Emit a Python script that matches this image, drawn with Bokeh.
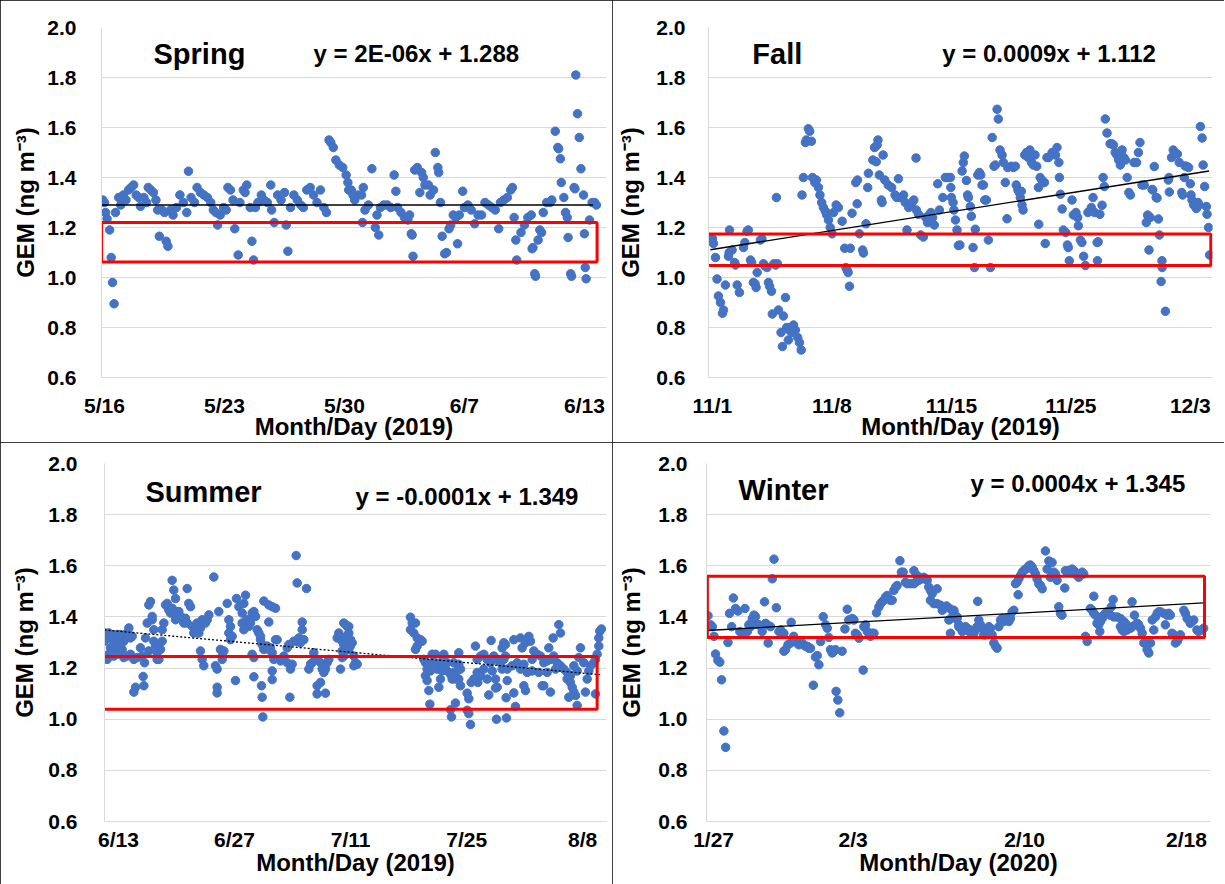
from bokeh.plotting import figure
from bokeh.layouts import column, row
from bokeh.models import FixedTicker, Label, Range1d
from bokeh.embed import file_html
from bokeh.resources import INLINE

# ---------------- data (x = day index along each season's axis, y = GEM ng m-3) ----------------
spring_points = [(-0.1,1.31),(0.0,1.30),(0.06,1.26),(0.15,1.235),(0.3,1.19),(0.39,1.08),(0.47,0.98),(0.56,0.895),(0.64,1.26),(0.83,1.32),(0.95,1.29),(1.1,1.33),(1.25,1.31),(1.4,1.35),(1.55,1.36),(1.7,1.37),(1.85,1.33),(2.0,1.32),(2.1,1.285),(2.3,1.32),(2.45,1.30),(2.55,1.36),(2.7,1.35),(2.85,1.34),(3.0,1.31),(3.1,1.27),(3.2,1.165),(3.35,1.27),(3.5,1.26),(3.6,1.145),(3.7,1.125),(3.85,1.27),(4.0,1.25),(4.2,1.28),(4.4,1.33),(4.6,1.30),(4.8,1.26),(4.9,1.425),(5.05,1.32),(5.25,1.30),(5.4,1.36),(5.6,1.34),(5.8,1.33),(6.0,1.32),(6.2,1.30),(6.35,1.27),(6.5,1.26),(6.6,1.21),(6.75,1.25),(6.95,1.28),(7.1,1.27),(7.2,1.36),(7.35,1.35),(7.5,1.31),(7.6,1.195),(7.8,1.09),(7.9,1.30),(8.1,1.35),(8.2,1.34),(8.3,1.37),(8.5,1.28),(8.6,1.145),(8.7,1.07),(8.8,1.28),(8.95,1.30),(9.15,1.33),(9.3,1.31),(9.5,1.30),(9.7,1.37),(9.75,1.27),(9.9,1.22),(10.1,1.33),(10.3,1.31),(10.5,1.34),(10.6,1.21),(10.7,1.105),(10.85,1.28),(11.05,1.33),(11.25,1.31),(11.45,1.29),(11.6,1.28),(11.8,1.35),(12.0,1.36),(12.2,1.33),(12.4,1.30),(12.6,1.35),(12.8,1.28),(12.95,1.26),(13.1,1.55),(13.2,1.54),(13.35,1.52),(13.5,1.47),(13.7,1.45),(13.9,1.44),(14.1,1.41),(14.2,1.38),(14.25,1.35),(14.4,1.35),(14.5,1.33),(14.6,1.31),(14.8,1.33),(15.0,1.33),(15.05,1.22),(15.1,1.36),(15.2,1.27),(15.4,1.29),(15.6,1.435),(15.8,1.20),(15.9,1.25),(16.0,1.17),(16.1,1.28),(16.3,1.29),(16.5,1.29),(16.7,1.28),(16.9,1.41),(17.0,1.345),(17.1,1.28),(17.3,1.26),(17.5,1.24),(17.7,1.23),(17.8,1.25),(17.9,1.175),(17.95,1.17),(18.0,1.085),(18.1,1.43),(18.25,1.44),(18.4,1.34),(18.5,1.42),(18.6,1.40),(18.7,1.37),(18.9,1.37),(19.0,1.33),(19.2,1.35),(19.3,1.50),(19.45,1.44),(19.5,1.42),(19.6,1.30),(19.7,1.165),(19.85,1.095),(19.95,1.10),(20.1,1.195),(20.2,1.21),(20.35,1.25),(20.5,1.24),(20.6,1.135),(20.7,1.25),(20.9,1.345),(21.0,1.28),(21.2,1.29),(21.4,1.27),(21.6,1.215),(21.8,1.25),(22.0,1.25),(22.2,1.30),(22.4,1.29),(22.6,1.28),(22.8,1.27),(23.0,1.195),(23.1,1.30),(23.3,1.31),(23.5,1.32),(23.7,1.35),(23.8,1.36),(23.9,1.24),(24.0,1.15),(24.05,1.07),(24.3,1.18),(24.5,1.21),(24.7,1.24),(24.9,1.25),(24.95,1.115),(25.0,1.12),(25.1,1.015),(25.15,1.005),(25.3,1.15),(25.4,1.19),(25.5,1.18),(25.6,1.26),(25.8,1.30),(26.0,1.30),(26.1,1.31),(26.3,1.585),(26.45,1.52),(26.5,1.515),(26.6,1.475),(26.65,1.38),(26.8,1.32),(26.9,1.26),(27.0,1.24),(27.05,1.16),(27.2,1.015),(27.25,1.005),(27.4,1.36),(27.45,1.355),(27.5,1.81),(27.6,1.655),(27.7,1.56),(27.8,1.435),(27.95,1.33),(28.0,1.175),(28.05,1.04),(28.1,0.995),(28.3,1.23),(28.45,1.30),(28.6,1.30),(28.7,1.29)]

fall_points = [(0.0,1.156),(0.06,1.136),(0.18,1.08),(0.27,0.994),(0.35,0.926),(0.47,0.90),(0.59,0.857),(0.65,0.87),(0.76,0.97),(0.94,1.085),(0.98,1.10),(1.0,1.19),(1.15,1.11),(1.3,1.06),(1.35,1.05),(1.45,0.97),(1.58,0.94),(1.82,1.12),(1.9,1.14),(2.03,1.185),(2.1,1.19),(2.23,1.07),(2.3,1.06),(2.4,0.98),(2.5,0.975),(2.56,0.96),(2.62,1.02),(2.81,1.15),(2.9,1.155),(2.99,1.055),(3.1,1.045),(3.2,1.04),(3.28,0.98),(3.35,0.965),(3.46,0.945),(3.51,0.854),(3.6,1.055),(3.7,1.05),(3.75,1.32),(3.81,1.055),(3.87,0.87),(4.02,0.78),(4.1,0.724),(4.16,0.846),(4.28,0.92),(4.35,0.80),(4.45,0.75),(4.5,0.79),(4.57,0.80),(4.65,0.78),(4.75,0.81),(4.86,0.79),(5.0,0.76),(5.1,0.74),(5.2,0.71),(5.25,1.33),(5.33,1.40),(5.45,1.54),(5.5,1.55),(5.62,1.595),(5.7,1.585),(5.8,1.545),(5.86,1.40),(6.0,1.38),(6.09,1.39),(6.21,1.36),(6.3,1.33),(6.4,1.30),(6.5,1.28),(6.62,1.265),(6.7,1.25),(6.8,1.23),(6.9,1.20),(7.01,1.175),(7.1,1.26),(7.25,1.29),(7.38,1.28),(7.6,1.225),(7.75,1.117),(7.82,1.04),(7.89,1.03),(7.95,1.02),(8.03,0.965),(8.08,1.117),(8.18,1.257),(8.4,1.38),(8.48,1.295),(8.5,1.39),(8.61,1.175),(8.8,1.11),(8.85,1.098),(9.0,1.215),(9.1,1.36),(9.14,1.417),(9.4,1.47),(9.5,1.52),(9.6,1.463),(9.65,1.53),(9.7,1.55),(9.78,1.41),(9.9,1.31),(9.94,1.30),(10.0,1.49),(10.1,1.39),(10.3,1.37),(10.5,1.36),(10.7,1.33),(10.8,1.32),(10.9,1.395),(11.0,1.32),(11.2,1.33),(11.3,1.30),(11.4,1.19),(11.5,1.28),(11.6,1.29),(11.7,1.30),(11.8,1.31),(11.93,1.478),(11.95,1.27),(12.07,1.253),(12.2,1.17),(12.36,1.162),(12.5,1.24),(12.6,1.22),(12.7,1.25),(12.8,1.26),(12.9,1.24),(13.0,1.21),(13.2,1.375),(13.3,1.27),(13.5,1.32),(13.65,1.40),(13.8,1.40),(13.94,1.40),(13.97,1.36),(14.0,1.32),(14.1,1.30),(14.15,1.27),(14.24,1.23),(14.33,1.19),(14.41,1.128),(14.5,1.13),(14.63,1.426),(14.7,1.46),(14.76,1.486),(14.88,1.388),(14.95,1.33),(15.0,1.32),(15.11,1.284),(15.17,1.245),(15.27,1.12),(15.35,1.04),(15.4,1.193),(15.55,1.41),(15.64,1.42),(15.72,1.41),(15.8,1.37),(15.88,1.37),(15.96,1.31),(16.05,1.31),(16.17,1.15),(16.29,1.04),(16.39,1.56),(16.5,1.445),(16.58,1.45),(16.68,1.673),(16.75,1.634),(16.85,1.51),(16.97,1.49),(17.05,1.46),(17.16,1.38),(17.26,1.235),(17.3,1.44),(17.5,1.445),(17.63,1.44),(17.75,1.445),(17.8,1.37),(17.9,1.35),(17.98,1.34),(18.04,1.32),(18.1,1.345),(18.14,1.29),(18.2,1.27),(18.3,1.49),(18.4,1.50),(18.5,1.48),(18.6,1.51),(18.7,1.46),(18.8,1.45),(18.9,1.49),(19.0,1.445),(19.1,1.36),(19.12,1.213),(19.2,1.40),(19.3,1.39),(19.4,1.38),(19.45,1.38),(19.5,1.136),(19.6,1.48),(19.7,1.48),(19.9,1.50),(20.1,1.49),(20.19,1.52),(20.3,1.46),(20.33,1.40),(20.39,1.333),(20.49,1.274),(20.56,1.19),(20.7,1.18),(20.8,1.13),(20.85,1.12),(20.91,1.067),(21.07,1.31),(21.15,1.25),(21.3,1.26),(21.4,1.24),(21.44,1.207),(21.56,1.15),(21.65,1.14),(21.75,1.085),(21.85,1.048),(22.0,1.26),(22.1,1.265),(22.2,1.28),(22.3,1.32),(22.4,1.26),(22.54,1.14),(22.56,1.067),(22.6,1.143),(22.7,1.253),(22.83,1.289),(22.89,1.40),(22.96,1.364),(23.02,1.634),(23.12,1.578),(23.3,1.535),(23.4,1.535),(23.5,1.53),(23.6,1.50),(23.7,1.49),(23.8,1.47),(23.9,1.45),(24.0,1.51),(24.1,1.48),(24.2,1.47),(24.3,1.40),(24.4,1.34),(24.49,1.33),(24.7,1.46),(24.85,1.46),(24.96,1.50),(25.05,1.54),(25.17,1.37),(25.3,1.37),(25.42,1.22),(25.5,1.25),(25.54,1.245),(25.58,1.11),(25.65,1.24),(25.76,1.352),(25.8,1.35),(25.89,1.444),(26.0,1.32),(26.05,1.318),(26.13,1.234),(26.19,1.17),(26.29,0.984),(26.34,1.067),(26.35,1.04),(26.54,0.865),(26.71,1.39),(26.75,1.40),(26.77,1.342),(26.9,1.48),(27.0,1.51),(27.1,1.50),(27.24,1.494),(27.35,1.46),(27.5,1.34),(27.55,1.33),(27.65,1.40),(27.7,1.446),(27.81,1.444),(27.9,1.44),(28.0,1.375),(28.04,1.33),(28.1,1.31),(28.2,1.29),(28.3,1.29),(28.35,1.276),(28.45,1.30),(28.5,1.29),(28.59,1.604),(28.69,1.558),(28.75,1.45),(28.84,1.364),(28.94,1.284),(28.98,1.253),(29.07,1.20),(29.13,1.09)]

summer_points = [(-1.69,1.305),(-1.57,1.337),(-1.37,1.324),(-1.17,1.337),(-0.97,1.318),(-0.76,1.331),(-0.56,1.299),(-0.36,1.318),(-0.16,1.331),(0.04,1.311),(0.24,1.331),(0.44,1.318),(0.64,1.305),(0.84,1.324),(1.04,1.337),(1.25,1.357),(1.45,1.318),(1.65,1.324),(-1.37,1.234),(-1.17,1.254),(-0.97,1.279),(-0.76,1.267),(-0.56,1.247),(-0.36,1.279),(-0.16,1.254),(0.04,1.267),(0.24,1.286),(0.44,1.273),(0.64,1.241),(1.04,1.247),(1.45,1.254),(1.85,1.234),(2.25,1.241),(1.85,1.106),(2.05,1.125),(2.65,1.279),(2.85,1.247),(2.97,1.167),(3.06,1.131),(3.14,1.221),(3.26,1.318),(3.46,1.376),(3.66,1.447),(3.86,1.46),(4.06,1.402),(4.06,1.389),(4.26,1.35),(3.66,1.267),(4.26,1.305),(4.46,1.286),(4.66,1.26),(4.87,1.292),(5.07,1.273),(5.27,1.305),(4.66,1.234),(4.87,1.234),(5.27,1.35),(5.47,1.376),(5.67,1.447),(5.87,1.453),(6.07,1.427),(6.27,1.415),(6.47,1.434),(6.67,1.415),(6.88,1.389),(7.08,1.421),(7.28,1.421),(7.48,1.402),(7.68,1.389),(7.88,1.376),(8.08,1.395),(8.28,1.376),(8.48,1.453),(8.69,1.44),(6.47,1.543),(6.67,1.505),(6.88,1.472),(8.28,1.511),(8.89,1.363),(9.09,1.337),(9.29,1.35),(9.49,1.376),(9.69,1.337),(9.89,1.357),(10.09,1.389),(10.29,1.376),(10.49,1.376),(10.7,1.389),(10.9,1.408),(9.89,1.267),(10.09,1.234),(10.29,1.209),(11.5,1.556),(11.7,1.209),(11.9,1.196),(11.9,1.125),(11.9,1.103),(12.1,1.421),(12.3,1.273),(12.51,1.247),(12.71,1.267),(12.51,1.234),(13.11,1.453),(13.31,1.389),(13.51,1.363),(13.31,1.337),(13.51,1.311),(13.71,1.324),(14.11,1.151),(14.23,1.472),(14.52,1.44),(14.92,1.415),(15.12,1.453),(15.32,1.485),(14.92,1.376),(15.12,1.35),(15.52,1.389),(15.72,1.363),(15.92,1.376),(16.12,1.415),(16.33,1.421),(16.53,1.402),(16.73,1.35),(16.93,1.337),(17.13,1.324),(16.12,1.254),(16.33,1.241),(16.33,1.166),(17.13,1.311),(17.33,1.292),(17.53,1.273),(17.73,1.279),(17.93,1.286),(18.13,1.273),(18.34,1.279),(18.54,1.26),(18.74,1.234),(18.94,1.311),(17.25,1.131),(17.33,1.086),(17.41,1.009),(17.53,1.462),(18.13,1.447),(18.54,1.44),(18.94,1.434),(18.13,1.38),(18.54,1.189),(18.54,1.155),(19.14,1.311),(19.54,1.228),(19.94,1.247),(20.35,1.221),(20.75,1.196),(20.95,1.215),(20.67,1.086),(20.35,1.279),(20.55,1.292),(21.15,1.305),(21.55,1.305),(21.75,1.318),(21.95,1.299),(22.36,1.311),(21.43,1.64),(21.55,1.533),(22.16,1.38),(22.16,1.35),(22.68,1.511),(22.96,1.196),(23.16,1.215),(23.36,1.221),(23.96,1.131),(24.37,1.144),(23.96,1.099),(24.97,1.102),(23.56,1.26),(23.96,1.234),(24.37,1.221),(24.57,1.196),(24.77,1.183),(24.97,1.196),(25.17,1.221),(25.37,1.234),(26.38,1.318),(26.58,1.337),(26.78,1.324),(26.98,1.305),(27.18,1.292),(27.38,1.37),(27.58,1.363),(27.78,1.337),(27.98,1.286),(26.78,1.196),(26.98,1.241),(27.18,1.376),(27.78,1.363),(27.58,1.324),(27.99,1.311),(28.19,1.299),(26.98,1.267),(27.18,1.247),(28.39,1.247),(28.59,1.221),(28.79,1.215),(28.39,1.209),(27.78,1.273),(35.22,1.399),(35.43,1.376),(35.83,1.376),(35.22,1.35),(35.63,1.337),(36.03,1.318),(36.43,1.311),(36.63,1.305),(36.03,1.286),(35.83,1.273),(36.83,1.234),(37.03,1.221),(37.23,1.196),(37.03,1.17),(37.23,1.151),(37.44,1.112),(37.56,1.059),(37.84,1.254),(38.24,1.254),(37.84,1.221),(38.44,1.196),(38.84,1.157),(38.64,1.125),(39.25,1.254),(39.45,1.221),(39.65,1.189),(40.05,1.176),(40.45,1.183),(40.65,1.157),(40.85,1.189),(41.05,1.26),(41.05,1.215),(41.26,1.196),(41.05,1.157),(41.26,1.131),(40.05,1.037),(40.17,1.009),(40.65,1.063),(42.06,1.102),(42.26,1.08),(42.06,1.035),(42.26,1.022),(42.46,0.979),(42.54,1.144),(43.06,1.286),(43.27,1.234),(43.67,1.247),(44.07,1.254),(44.47,1.234),(44.87,1.221),(45.28,1.247),(45.68,1.234),(46.08,1.221),(46.48,1.234),(46.68,1.247),(43.27,1.183),(43.67,1.17),(44.47,1.157),(45.48,1.157),(45.68,1.125),(46.89,1.151),(43.35,1.144),(44.67,1.095),(44.95,1.308),(45.48,1.122),(45.6,1.0),(46.28,1.279),(46.48,1.299),(46.68,1.292),(46.8,1.005),(46.76,1.084),(47.69,1.311),(47.69,1.103),(47.89,1.05),(48.49,1.318),(48.69,1.279),(49.1,1.299),(49.3,1.311),(49.5,1.324),(49.7,1.305),(48.49,1.196),(48.9,1.215),(49.3,1.183),(49.9,1.189),(48.9,1.131),(49.1,1.112),(50.1,1.267),(50.5,1.254),(50.91,1.247),(51.31,1.221),(51.71,1.228),(52.11,1.234),(52.51,1.247),(52.92,1.221),(53.32,1.209),(53.72,1.196),(54.12,1.183),(54.52,1.17),(51.11,1.131),(51.31,1.131),(52.11,1.106),(51.91,1.279),(52.43,1.318),(53.12,1.37),(53.32,1.337),(54.12,1.157),(54.52,1.144),(54.73,1.125),(54.93,1.106),(55.13,1.093),(54.32,1.086),(55.33,1.054),(55.53,1.241),(55.73,1.279),(56.33,1.106),(56.74,1.189),(56.54,1.157),(57.34,1.221),(57.54,1.234),(57.74,1.254),(57.94,1.286),(57.94,1.318),(58.06,1.344),(58.26,1.353),(57.54,1.099),(37.64,1.189),(38.84,1.221),(39.65,1.221),(40.45,1.221),(39.04,1.189),(40.25,1.157),(42.86,1.157),(44.07,1.196),(45.08,1.189),(46.28,1.196),(46.89,1.196),(47.49,1.209),(48.09,1.221),(49.9,1.234),(50.7,1.183),(51.71,1.183),(52.72,1.196),(54.93,1.209),(55.33,1.189),(56.13,1.221),(56.94,1.209)]

winter_points = [(-0.26,1.405),(-0.14,1.369),(-0.06,1.362),(0.02,1.324),(0.09,1.255),(0.2,1.23),(0.29,1.223),(0.37,1.154),(0.48,0.954),(0.56,0.89),(0.67,1.30),(0.74,1.414),(0.84,1.362),(0.92,1.474),(1.02,1.433),(1.13,1.423),(1.22,1.343),(1.33,1.336),(1.46,1.433),(1.57,1.343),(1.64,1.369),(1.72,1.362),(1.8,1.394),(1.88,1.407),(1.95,1.401),(2.03,1.371),(2.11,1.369),(2.26,1.343),(2.37,1.459),(2.42,1.375),(2.5,1.369),(2.54,1.298),(2.65,1.362),(2.73,1.549),(2.81,1.626),(2.92,1.436),(3.04,1.343),(3.12,1.349),(3.27,1.336),(3.27,1.266),(3.35,1.272),(3.46,1.291),(3.58,1.298),(3.61,1.379),(3.73,1.324),(3.81,1.311),(3.89,1.298),(3.97,1.291),(4.05,1.298),(4.12,1.298),(4.2,1.291),(4.28,1.285),(4.36,1.285),(4.43,1.278),(4.51,1.278),(4.64,1.133),(4.74,1.243),(4.82,1.249),(4.9,1.213),(4.98,1.304),(5.1,1.401),(5.21,1.369),(5.29,1.356),(5.36,1.32),(5.44,1.272),(5.52,1.259),(5.6,1.266),(5.67,1.272),(5.7,1.109),(5.78,1.075),(5.87,1.025),(5.98,1.266),(6.11,1.353),(6.22,1.43),(6.29,1.388),(6.45,1.394),(6.53,1.388),(6.6,1.336),(6.68,1.33),(6.76,1.317),(6.96,1.192),(6.99,1.362),(7.07,1.369),(7.15,1.343),(7.22,1.336),(7.3,1.324),(7.38,1.336),(7.46,1.336),(7.58,1.416),(7.69,1.439),(7.77,1.452),(7.84,1.459),(7.92,1.465),(8.0,1.478),(8.08,1.484),(8.15,1.472),(8.23,1.465),(8.31,1.465),(8.39,1.504),(8.47,1.517),(8.54,1.523),(8.67,1.62),(8.74,1.575),(8.82,1.575),(8.93,1.536),(9.01,1.53),(9.16,1.53),(9.32,1.53),(9.32,1.581),(9.4,1.536),(9.47,1.562),(9.55,1.543),(9.63,1.549),(9.71,1.549),(9.78,1.555),(9.86,1.549),(9.94,1.543),(10.01,1.517),(10.09,1.504),(10.09,1.465),(10.17,1.491),(10.25,1.452),(10.4,1.51),(10.4,1.452),(10.56,1.446),(10.64,1.426),(10.71,1.433),(10.84,1.443),(10.95,1.388),(11.02,1.336),(11.18,1.426),(11.33,1.394),(11.41,1.362),(11.02,1.431),(11.1,1.399),(11.18,1.418),(11.26,1.394),(11.33,1.40),(11.41,1.369),(11.49,1.356),(11.57,1.343),(11.64,1.349),(11.72,1.362),(11.8,1.356),(11.88,1.343),(11.95,1.349),(12.03,1.343),(12.11,1.336),(12.19,1.349),(12.26,1.362),(12.29,1.461),(12.34,1.388),(12.42,1.369),(12.5,1.356),(12.57,1.33),(12.65,1.33),(12.73,1.343),(12.81,1.362),(12.88,1.356),(12.96,1.33),(13.04,1.298),(13.12,1.285),(13.19,1.278),(13.27,1.362),(13.35,1.388),(13.43,1.394),(13.5,1.382),(13.58,1.388),(13.66,1.394),(13.74,1.382),(13.81,1.394),(13.89,1.42),(13.97,1.426),(14.05,1.53),(14.12,1.536),(14.17,1.487),(14.2,1.549),(14.28,1.562),(14.36,1.575),(14.43,1.581),(14.51,1.587),(14.59,1.59),(14.67,1.60),(14.74,1.603),(14.82,1.594),(14.9,1.581),(14.98,1.568),(15.05,1.549),(15.13,1.53),(15.21,1.523),(15.29,1.51),(15.44,1.658),(15.52,1.587),(15.6,1.619),(15.67,1.613),(15.67,1.555),(15.75,1.613),(15.75,1.562),(15.83,1.575),(15.91,1.568),(15.98,1.543),(16.06,1.44),(16.14,1.414),(16.21,1.407),(16.34,1.513),(16.37,1.581),(16.45,1.575),(16.53,1.581),(16.6,1.575),(16.68,1.587),(16.76,1.581),(16.84,1.575),(16.91,1.562),(16.99,1.555),(17.07,1.568),(17.15,1.575),(17.22,1.568),(17.3,1.324),(17.38,1.304),(17.53,1.433),(17.61,1.426),(17.69,1.481),(17.69,1.414),(17.77,1.407),(17.84,1.375),(17.92,1.369),(17.97,1.343),(18.0,1.382),(18.08,1.394),(18.15,1.407),(18.23,1.414),(18.31,1.42),(18.46,1.407),(18.51,1.44),(18.59,1.468),(18.62,1.40),(18.78,1.40),(18.93,1.394),(18.93,1.362),(19.01,1.349),(19.09,1.382),(19.09,1.343),(19.16,1.375),(19.24,1.349),(19.4,1.356),(19.47,1.459),(19.47,1.362),(19.58,1.407),(19.63,1.369),(19.71,1.375),(19.78,1.369),(19.86,1.356),(19.94,1.336),(20.02,1.298),(20.09,1.298),(20.17,1.272),(20.25,1.259),(20.33,1.298),(20.41,1.388),(20.48,1.349),(20.56,1.40),(20.64,1.414),(20.71,1.42),(20.79,1.42),(20.95,1.414),(21.02,1.369),(21.1,1.407),(21.18,1.414),(21.25,1.407),(21.33,1.336),(21.41,1.33),(21.49,1.298),(21.57,1.304),(21.64,1.317),(21.72,1.33),(21.88,1.426),(21.95,1.414),(22.03,1.394),(22.11,1.388),(22.18,1.375),(22.26,1.382),(22.34,1.388),(22.49,1.349),(22.57,1.343),(22.73,1.349),(22.8,1.356)]

# tick positions / labels on each x axis
spring_ticks = [0, 7, 14, 21, 28]
spring_labels = ["5/16", "5/23", "5/30", "6/7", "6/13"]
fall_ticks = [0, 7, 14, 21, 28]
fall_labels = ["11/1", "11/8", "11/15", "11/25", "12/3"]
summer_ticks = [0, 14, 28, 42, 56]
summer_labels = ["6/13", "6/27", "7/11", "7/25", "8/8"]
winter_ticks = [0, 6.49, 14.47, 22.0]
winter_labels = ["1/27", "2/3", "2/10", "2/18"]
gem_ticks = [0.6, 0.8, 1.0, 1.2, 1.4, 1.6, 1.8, 2.0]

# linear trend lines (end points)
spring_trend = ([-0.17, 28.5], [1.290, 1.290])
fall_trend = ([-0.12, 29.1], [1.111, 1.426])
summer_trend = ([-1.69, 58.1], [1.349, 1.174])
winter_trend = ([-0.33, 22.8], [1.347, 1.455])

# highlighted GEM bands (red boxes): left, right, bottom, top
spring_box = [-0.17, 28.74, 1.062, 1.220]
fall_box = [-0.31, 29.2, 1.048, 1.174]
summer_box = [-2.1, 57.74, 1.039, 1.245]
winter_box = [-0.29, 22.84, 1.320, 1.559]

equations = {
    "Spring": "y = 2E-06x + 1.288",
    "Fall": "y = 0.0009x + 1.112",
    "Summer": "y = -0.0001x + 1.349",
    "Winter": "y = 0.0004x + 1.345",
}
year_label = {"Spring": "2019", "Fall": "2019", "Summer": "2019", "Winter": "2020"}

FONT = "Liberation Sans"
BLUE = "#4472C4"
GRID = "#D9D9D9"


def make_panel(name, pts, ticks, labels, trend, box, xr, borders, ylab_std, xlab_std,
               title_xy, eq_xy, dashed=False):
    left, right, top, bottom = borders
    p = figure(width=612, height=442, x_range=Range1d(*xr), y_range=Range1d(0.6, 2.0),
               output_backend="svg", toolbar_location=None,
               min_border_left=left, min_border_right=right,
               min_border_top=top, min_border_bottom=bottom,
               background_fill_color="white", border_fill_color="white")
    p.outline_line_color = None
    p.styles = {"outline": "1px solid black", "outline-offset": "-1px"}

    # axes
    p.xaxis.ticker = FixedTicker(ticks=ticks)
    p.xaxis.major_label_overrides = {t: l for t, l in zip(ticks, labels)}
    p.yaxis.ticker = FixedTicker(ticks=gem_ticks)
    p.yaxis.major_label_overrides = {v: f"{v:.1f}" for v in gem_ticks}
    for ax in (p.xaxis, p.yaxis):
        ax.major_tick_line_color = None
        ax.minor_tick_line_color = None
        ax.axis_line_color = GRID
        ax.major_label_text_font = FONT
        ax.major_label_text_font_style = "bold"
        ax.major_label_text_font_size = "21px"
        ax.major_label_text_color = "black"
        ax.axis_label_text_font = FONT
        ax.axis_label_text_font_style = "bold"
        ax.axis_label_text_font_size = "24px"
        ax.axis_label_text_color = "black"
    p.xaxis.major_label_standoff = xlab_std[0]
    p.xaxis.axis_label_standoff = xlab_std[1]
    p.yaxis.major_label_standoff = ylab_std[0]
    p.yaxis.axis_label_standoff = ylab_std[1]
    p.xaxis.axis_label = f"Month/Day ({year_label[name]})"
    p.yaxis.axis_label = "GEM (ng m\u207b\u00b3)"
    p.xgrid.grid_line_color = None
    p.ygrid.grid_line_color = GRID
    p.ygrid.grid_line_width = 1

    xs = [a for a, b in pts]
    ys = [b for a, b in pts]
    p.scatter(xs, ys, size=8.5, color=BLUE, line_color=BLUE)

    p.line(trend[0], trend[1], line_color="black", line_width=1.3,
           line_dash="2 2" if dashed else "solid")

    p.quad(left=[box[0]], right=[box[1]], bottom=[box[2]], top=[box[3]],
           fill_alpha=0, line_color="#FF0000", line_width=3)

    p.add_layout(Label(x=title_xy[0], y=title_xy[1], text=name, text_font=FONT,
                       text_font_style="bold", text_font_size="29px",
                       text_baseline="middle", text_align="left", text_color="black"))
    p.add_layout(Label(x=eq_xy[0], y=eq_xy[1], text=equations[name], text_font=FONT,
                       text_font_style="bold", text_font_size="24px",
                       text_baseline="middle", text_align="left", text_color="black"))
    return p


p_spring = make_panel("Spring", spring_points, spring_ticks, spring_labels, spring_trend,
                      spring_box, (-0.175, 29.29), (101, 6, 27, 53), (19, 5), (10, -7),
                      (2.86, 1.895), (12.2, 1.895))
p_fall = make_panel("Fall", fall_points, fall_ticks, fall_labels, fall_trend,
                    fall_box, (-0.23, 29.3), (96, 12, 20, 55), (17, 9), (10, -7),
                    (2.34, 1.893), (13.47, 1.897))
p_summer = make_panel("Summer", summer_points, summer_ticks, summer_labels, summer_trend,
                      summer_box, (-1.69, 58.87), (104, 6, 16, 63), (21, 7), (0, -5),
                      (3.26, 1.89), (28.6, 1.87), dashed=True)
p_winter = make_panel("Winter", winter_points, winter_ticks, winter_labels, winter_trend,
                      winter_box, (-0.33, 23.12), (94, 14, 21, 58), (13, 10), (0, -5),
                      (1.16, 1.896), (11.95, 1.92))

layout = column(row(p_spring, p_fall, spacing=0), row(p_summer, p_winter, spacing=0), spacing=0)
layout.styles = {"outline": "1px solid black", "outline-offset": "-2px"}
open("out.html", "w").write(file_html(layout, INLINE))
